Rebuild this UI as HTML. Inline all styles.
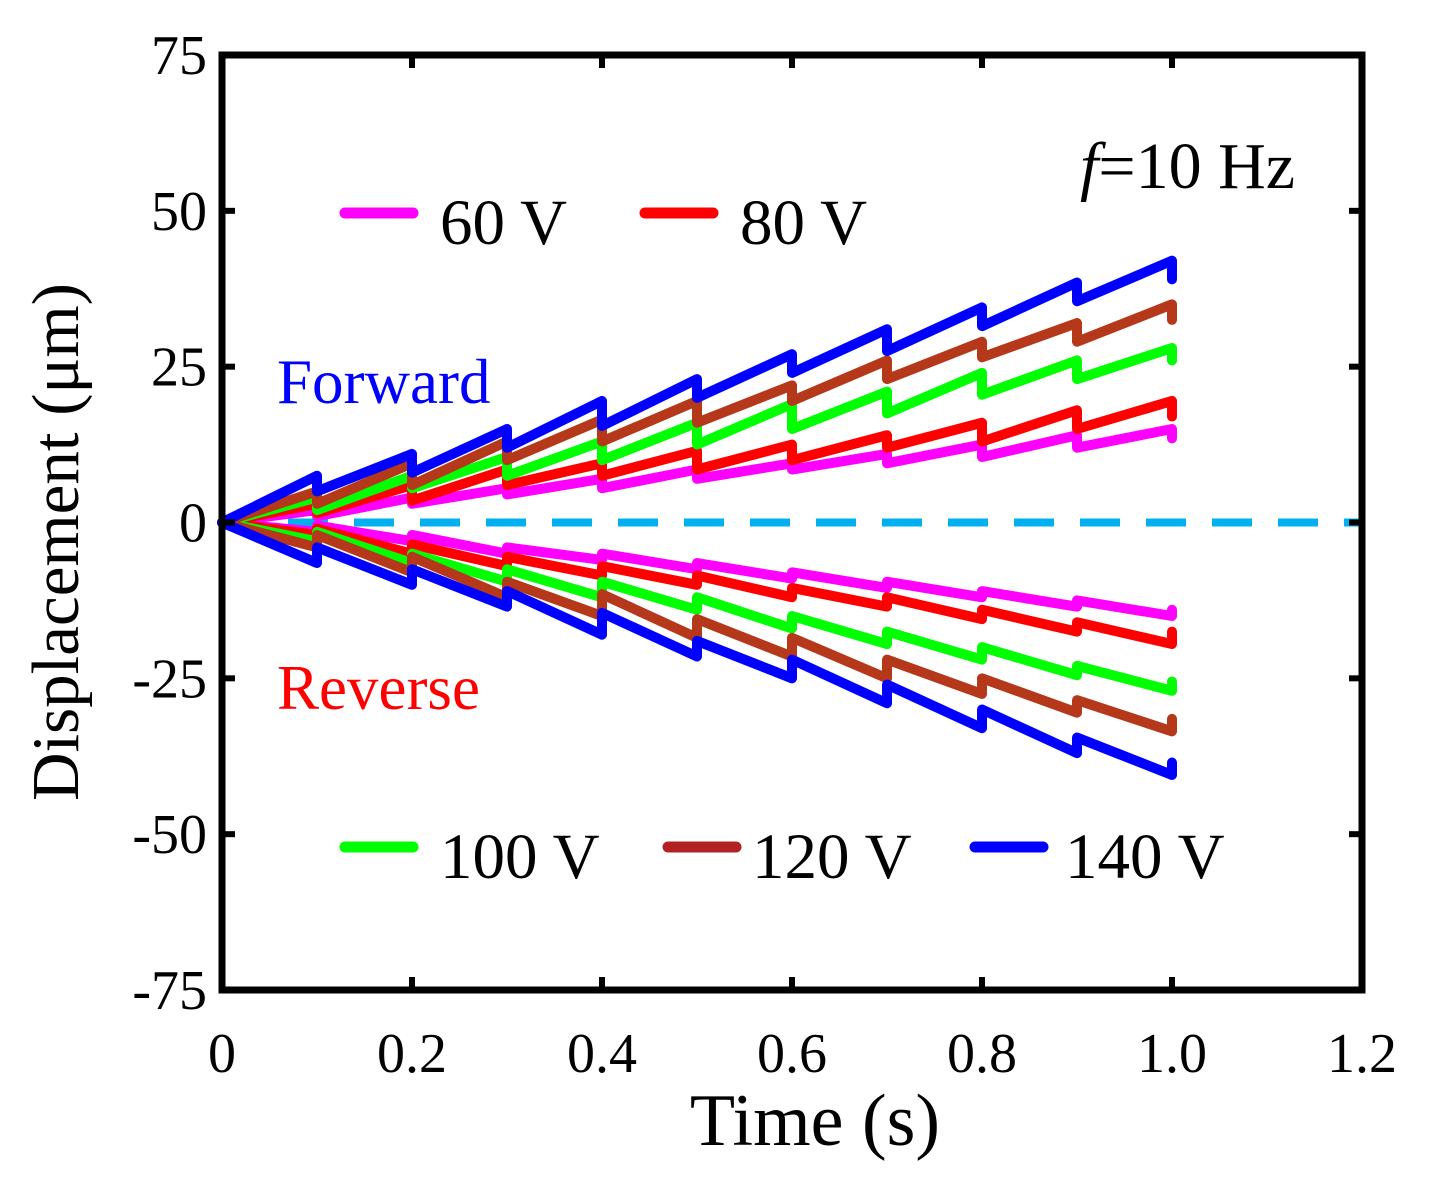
<!DOCTYPE html>
<html><head><meta charset="utf-8"><style>
html,body{margin:0;padding:0;background:#fff;}
svg{display:block;font-family:"Liberation Serif",serif;}
</style></head><body>
<svg id="chart" width="1434" height="1188" viewBox="0 0 1434 1188">
<g id="marks"></g>
<g id="axes"></g>
</svg>
<script>
const xTicks=[0,0.2,0.4,0.6,0.8,1.0,1.2];
const xTickLabels=["0","0.2","0.4","0.6","0.8","1.0","1.2"];
const yTicks=[75,50,25,0,-25,-50,-75];
const yTickLabels=["75","50","25","0","-25","-50","-75"];
const times=[0.1,0.2,0.3,0.4,0.5,0.6,0.7,0.8,0.9,1.0];
const seriesNames=["60 V","80 V","100 V","120 V","140 V"];
const fwdPeaks60=[2,4,5.5,7,8.5,9.5,11,12.5,14,15];
const fwdLows60=[1,3,4.5,5.5,7,8.5,9.5,10.5,12,13.5];
const fwdPeaks80=[3,6,8.5,9.5,11.5,12.5,14,16,18,19.5];
const fwdLows80=[1.5,3.5,6,7.5,8.5,10,12,13,15,17];
const fwdPeaks100=[4,7.5,10.5,13,16,19,21,24,26,28];
const fwdLows100=[2,5.5,7.5,10,12.5,15,17.5,20.5,23,26];
const fwdPeaks120=[5,9.5,13,16.5,19.5,22,26,29,32,35];
const fwdLows120=[3,6,10,13,16,19.5,23,26.5,29,32.5];
const fwdPeaks140=[7.5,11,15,19.5,23,27,31,34.5,38.5,42];
const fwdLows140=[5,8,12,15.5,20,24,27.5,31.5,35.5,39];
const revPeaks60=[-1.5,-3,-5,-6,-7.5,-9,-10.5,-12,-13.5,-15];
const revLows60=[-0.5,-2,-4,-5,-6.5,-8,-9.5,-11,-12.5,-14];
const revPeaks80=[-2,-5,-7,-8.5,-10,-12,-13.5,-15.5,-17.5,-19.5];
const revLows80=[-1,-3.5,-5.5,-7,-8.5,-10.5,-12,-14,-16,-17.5];
const revPeaks100=[-3,-6.5,-9.5,-12,-14,-17,-19.5,-22,-24.5,-27];
const revLows100=[-1.5,-5,-7.5,-9.5,-12,-15,-17.5,-20,-23,-25.5];
const revPeaks120=[-4,-8,-12,-15,-18.5,-21.5,-25,-27.5,-30.5,-33.5];
const revLows120=[-2,-5.5,-9.5,-11.5,-15.5,-18.5,-22,-25,-28.5,-31.5];
const revPeaks140=[-6.5,-10,-13.5,-18,-21.5,-25,-29,-33,-37,-40.5];
const revLows140=[-4,-7.5,-11,-14.5,-19,-22,-26,-30,-34.5,-38.5];

const NS="http://www.w3.org/2000/svg";
const L=222,R=1362,T=55,B=990;
const xs=v=>L+(v-0)/1.2*(R-L);
const ys=v=>T+(75-v)/150*(B-T);
const marks=document.getElementById('marks');
const axes=document.getElementById('axes');
function mk(tag,attrs,parent){const e=document.createElementNS(NS,tag);for(const k in attrs)e.setAttribute(k,attrs[k]);parent.appendChild(e);return e;}

const zl=mk('line',{x1:xs(0),x2:R,y1:ys(0),y2:ys(0),stroke:'#00b0f0','stroke-width':8,'stroke-dasharray':'40 26'},marks);



const colors=['#ff00ff','#ff0000','#00ff00','#b5381a','#0000ff'];
const fwd=[[fwdPeaks60,fwdLows60],[fwdPeaks80,fwdLows80],[fwdPeaks100,fwdLows100],[fwdPeaks120,fwdLows120],[fwdPeaks140,fwdLows140]];
const rev=[[revPeaks60,revLows60],[revPeaks80,revLows80],[revPeaks100,revLows100],[revPeaks120,revLows120],[revPeaks140,revLows140]];
function path(p,l){let d='M'+xs(0)+','+ys(0);for(let i=0;i<times.length;i++){d+=' L'+xs(times[i])+','+ys(p[i])+' L'+xs(times[i])+','+ys(l[i]);}return d;}
for(let s=0;s<5;s++){
  const a=mk('path',{d:path(fwd[s][0],fwd[s][1]),fill:'none',stroke:colors[s],'stroke-width':10,'stroke-linejoin':'round','stroke-linecap':'round'},marks);
  
  
  const b=mk('path',{d:path(rev[s][0],rev[s][1]),fill:'none',stroke:colors[s],'stroke-width':10,'stroke-linejoin':'round','stroke-linecap':'round'},marks);
  
  
}

const fr=mk('rect',{x:L,y:T,width:R-L,height:B-T,fill:'none',stroke:'#000','stroke-width':7},axes);


for(let i=0;i<xTicks.length;i++){
  const x=xs(xTicks[i]);
  mk('line',{x1:x,x2:x,y1:B,y2:B-13,stroke:'#000','stroke-width':6},axes);
  mk('line',{x1:x,x2:x,y1:T,y2:T+13,stroke:'#000','stroke-width':6},axes);
  const t=mk('text',{x:x,y:1072,'font-size':56,'text-anchor':'middle'},axes);
  t.textContent=xTickLabels[i];
  
  
}
for(let i=0;i<yTicks.length;i++){
  const y=ys(yTicks[i]);
  mk('line',{x1:L,x2:L+13,y1:y,y2:y,stroke:'#000','stroke-width':6},axes);
  mk('line',{x1:R,x2:R-13,y1:y,y2:y,stroke:'#000','stroke-width':6},axes);
  const t=mk('text',{x:207,y:y+19,'font-size':56,'text-anchor':'end'},axes);
  t.textContent=yTickLabels[i];
  
  
}
</script>
<script>
const svg=document.getElementById('chart');
function txt(x,y,s,size,fill,name,anchor,extra){const e=document.createElementNS("http://www.w3.org/2000/svg",'text');e.setAttribute('x',x);e.setAttribute('y',y);e.setAttribute('font-size',size);e.setAttribute('fill',fill);if(anchor)e.setAttribute('text-anchor',anchor);if(extra)e.setAttribute('transform',extra);e.textContent=s;svg.appendChild(e);


return e;}
txt(815,1145,'Time (s)',74,'#000','x-axis-title','middle');
txt(78,542,'Displacement (μm)',67,'#000','y-axis-title','middle','rotate(-90 78 542)');
txt(277,403,'Forward',63,'#0000ff','forward-label');
txt(277,709,'Reverse',63,'#ff0000','reverse-label');
const f=txt(1080,188,'',66,'#000','frequency-label');
f.innerHTML='<tspan font-style="italic">f</tspan>=10 Hz';
const leg=[[345,213,'#ff00ff','60 V',440],[645,213,'#ff0000','80 V',740],[345,847,'#00ff00','100 V',440],[668,847,'#b22222','120 V',752],[975,847,'#0000ff','140 V',1065]];
for(const l of leg){
  const ln=document.createElementNS("http://www.w3.org/2000/svg",'line');
  ln.setAttribute('x1',l[0]);ln.setAttribute('x2',l[0]+68);ln.setAttribute('y1',l[1]);ln.setAttribute('y2',l[1]);
  ln.setAttribute('stroke',l[2]);ln.setAttribute('stroke-width',11);ln.setAttribute('stroke-linecap','round');
  svg.appendChild(ln);
  
  
  txt(l[4],l[1]+31,l[3],65,'#000','legend-entry');
}
</script>
</body></html>
